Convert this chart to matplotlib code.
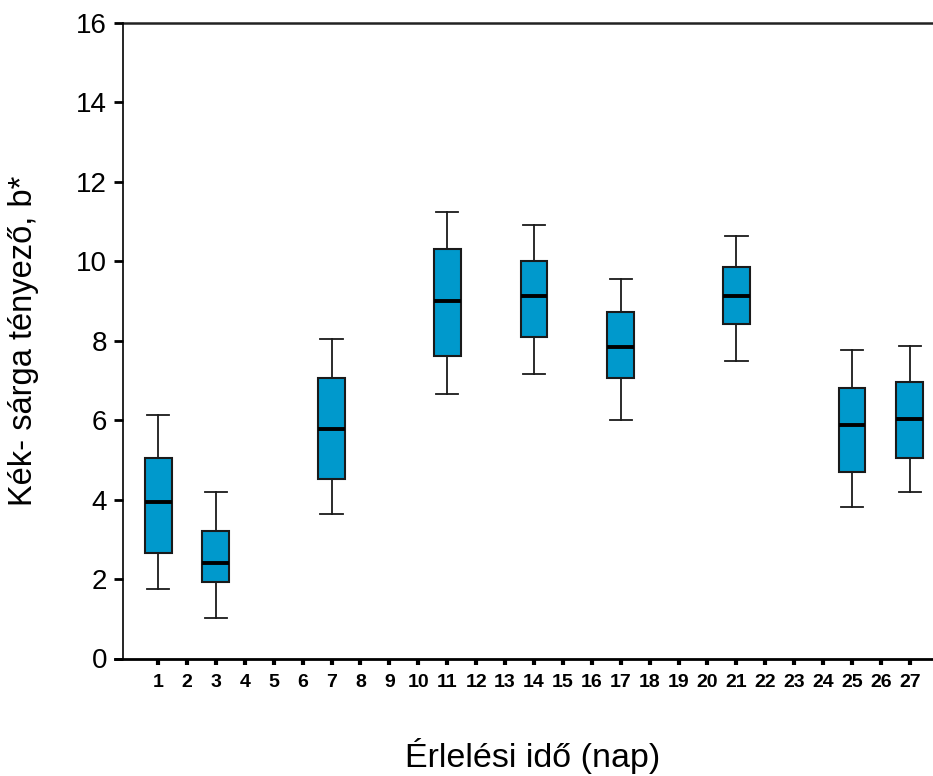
import matplotlib
matplotlib.use("Agg")
import matplotlib.pyplot as plt

plt.rcParams['font.family'] = ['Liberation Sans', 'DejaVu Sans']

# Box plot statistics (day, whisker low, Q1, median, Q3, whisker high)
days = [1, 3, 7, 11, 14, 17, 21, 25, 27]
whislo = [1.76, 1.02, 3.65, 6.67, 7.17, 6.01, 7.48, 3.82, 4.18]
q1 = [2.66, 1.93, 4.52, 7.62, 8.09, 7.07, 8.42, 4.69, 5.05]
med = [3.95, 2.40, 5.77, 9.00, 9.12, 7.85, 9.13, 5.87, 6.03]
q3 = [5.05, 3.20, 7.07, 10.30, 10.00, 8.72, 9.86, 6.81, 6.97]
whishi = [6.14, 4.18, 8.05, 11.24, 10.91, 9.56, 10.63, 7.77, 7.87]

x_ticks = list(range(1, 28))
y_ticks = [0, 2, 4, 6, 8, 10, 12, 14, 16]

stats = []
for i in range(len(days)):
    stats.append({'whislo': whislo[i], 'q1': q1[i], 'med': med[i],
                  'q3': q3[i], 'whishi': whishi[i], 'fliers': []})

W, H = 933, 776
fig = plt.figure(figsize=(W / 100, H / 100), dpi=100)
ax = fig.add_axes([115 / W, (H - 658.5) / H, 1 - 115 / W, 635.5 / H])

ax.bxp(stats, positions=days, widths=0.93, patch_artist=True,
       boxprops=dict(facecolor='#0099CC', edgecolor='#1a1a1a', linewidth=1.5),
       medianprops=dict(color='black', linewidth=2.8),
       whiskerprops=dict(color='#1a1a1a', linewidth=1.3),
       capprops=dict(color='#1a1a1a', linewidth=1.3),
       capwidths=0.77, manage_ticks=False)

x_left = -0.21
ax.set_xlim(-0.49, 27.8)
ax.set_ylim(0, 16)

ax.spines['right'].set_visible(False)
ax.spines['top'].set_visible(False)
ax.spines['left'].set_position(('data', x_left))
ax.spines['left'].set_linewidth(1.2)
ax.spines['bottom'].set_linewidth(2.0)
# top frame line starts at the left spine
ax.plot([x_left, 27.8], [16, 16], color='#222222', linewidth=1.8, clip_on=False)

ax.set_xticks(x_ticks)
ax.set_xticklabels([str(t) for t in x_ticks], fontsize=14, fontweight='bold')
ax.set_yticks(y_ticks)
ax.set_yticklabels([str(t) for t in y_ticks], fontsize=20)
ax.tick_params(axis='x', direction='out', length=4, width=3, pad=7)
ax.tick_params(axis='y', direction='out', length=6.5, width=2, pad=5)

fig.text(24 / W, 1 - 341 / H, 'Kék- sárga tényező, b*', rotation=90,
         ha='center', va='center', fontsize=23.5)
fig.text(533 / W, (H - 767) / H, 'Érlelési idő (nap)', ha='center',
         va='baseline', fontsize=24.5)

fig.savefig('out.png', dpi=100)
